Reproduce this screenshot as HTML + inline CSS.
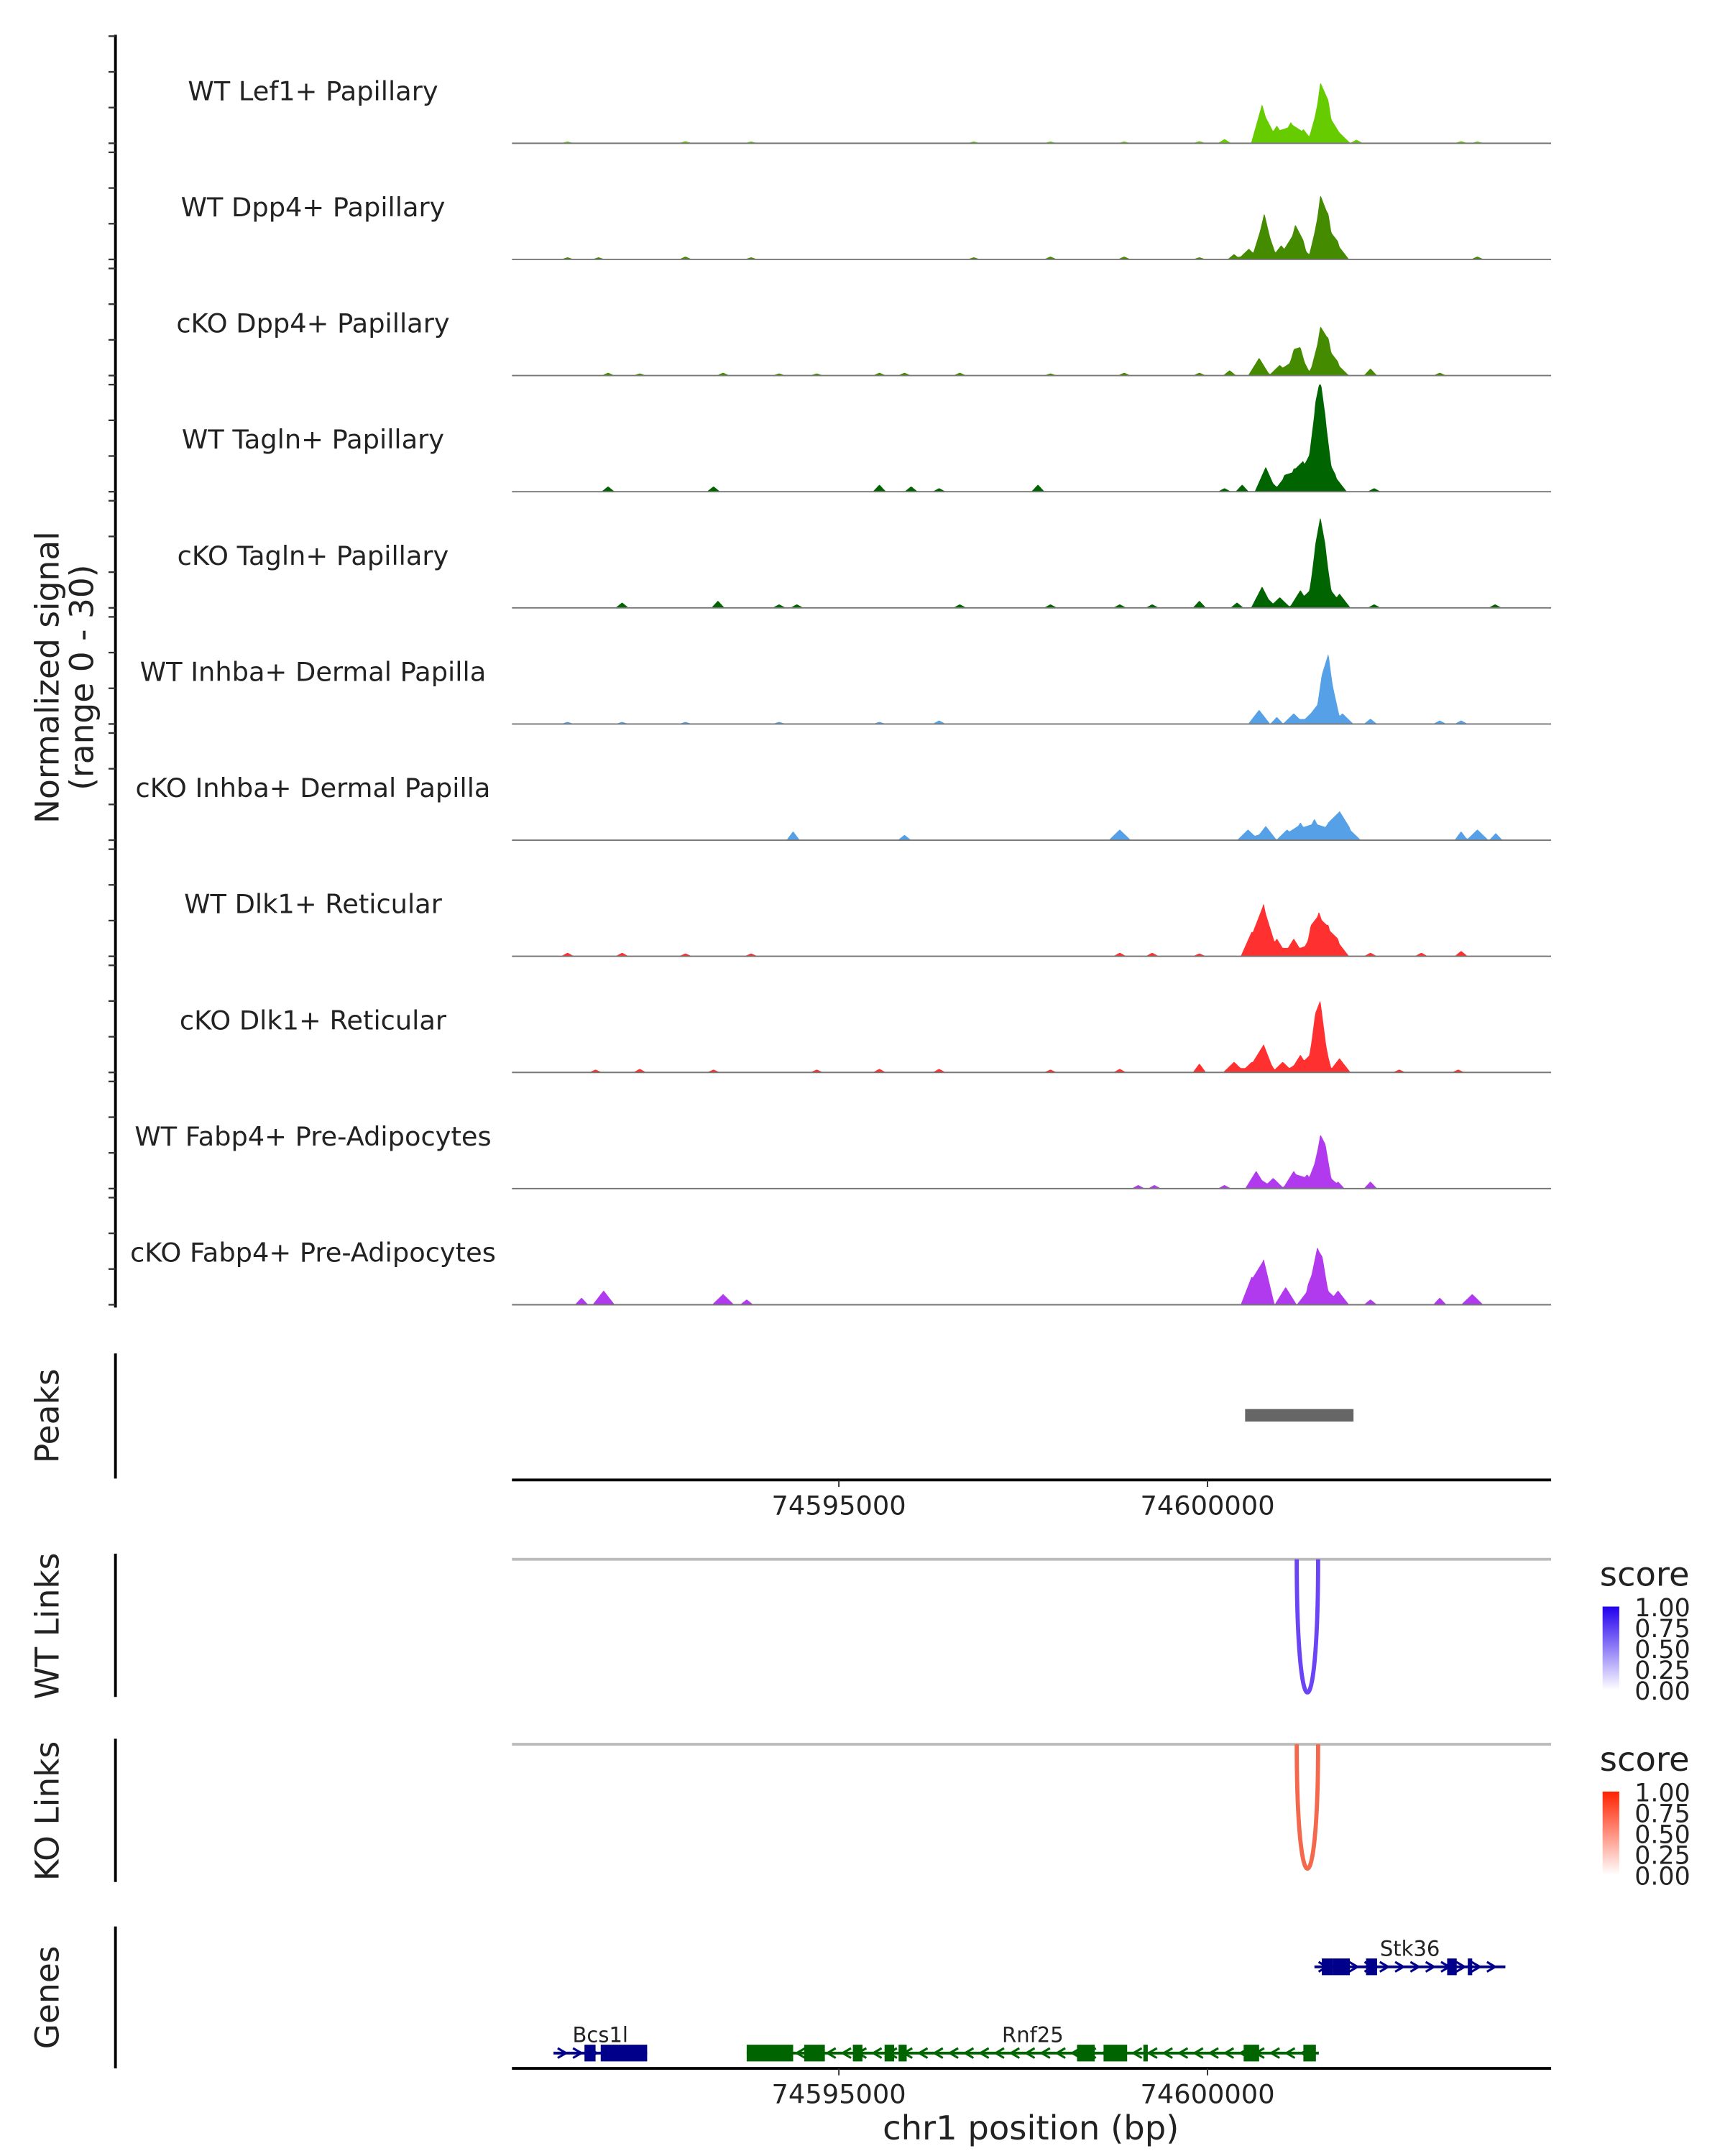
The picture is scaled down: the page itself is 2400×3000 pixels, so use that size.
<!DOCTYPE html>
<html><head><meta charset="utf-8"><style>
html,body{margin:0;padding:0;background:#fff}
svg{display:block}
text{font-family:"DejaVu Sans","Liberation Sans",sans-serif;fill:#222}
</style></head><body>
<svg id="chart" xmlns="http://www.w3.org/2000/svg" width="2400" height="3000" viewBox="0 0 1240 1550">
<g id="tracks"></g>
<g id="peaks"></g>
<g id="links"></g>
<g id="genes"></g>
<text transform="translate(42,487) rotate(-90)" text-anchor="middle" font-size="23.5">Normalized signal</text>
<text transform="translate(67,487) rotate(-90)" text-anchor="middle" font-size="23.5">(range 0 - 30)</text>
<text x="741" y="1538" text-anchor="middle" font-size="24">chr1 position (bp)</text>
</svg>
<script>
const NS="http://www.w3.org/2000/svg";
const regionStart=74590566, regionEnd=74604660;
const yMax=30;
const trackNames=["WT Lef1+ Papillary","WT Dpp4+ Papillary","cKO Dpp4+ Papillary","WT Tagln+ Papillary","cKO Tagln+ Papillary","WT Inhba+ Dermal Papilla","cKO Inhba+ Dermal Papilla","WT Dlk1+ Reticular","cKO Dlk1+ Reticular","WT Fabp4+ Pre-Adipocytes","cKO Fabp4+ Pre-Adipocytes"];
const trackColors=["#66CC00","#458B00","#458B00","#006400","#006400","#56A0E8","#56A0E8","#FF3030","#FF3030","#B23AEE","#B23AEE"];
// peak positions (bp) and heights (0-30)
const peakPos=[
[74591320,74592920,74593810,74596830,74597870,74598870,74599890,74600230,74600740,74600940,74601130,74601300,74601530,74601640,74601790,74602020,74603440,74603660],
[74591320,74591740,74592920,74593810,74596830,74597870,74598870,74599890,74600360,74600560,74600770,74601000,74601190,74601300,74601530,74601640,74601770,74603660],
[74591870,74592300,74593430,74594190,74594700,74595550,74595890,74596640,74597870,74598870,74599890,74600300,74600700,74600980,74601170,74601260,74601530,74601640,74601770,74602210,74603150],
[74591870,74593300,74595550,74595980,74596360,74597700,74600230,74600470,74600790,74601040,74601170,74601300,74601460,74601530,74601600,74601740,74602260],
[74592060,74593360,74594190,74594430,74596640,74597870,74598810,74599250,74599890,74600400,74600740,74600980,74601260,74601460,74601530,74601600,74601790,74602260,74603900],
[74591320,74592060,74592920,74594190,74595550,74596360,74600700,74600940,74601170,74601400,74601550,74601640,74601830,74602210,74603150,74603440],
[74594380,74595890,74598810,74600550,74600790,74601080,74601260,74601450,74601640,74601790,74601930,74603440,74603660,74603910],
[74591320,74592060,74592920,74593810,74598810,74599250,74599890,74600600,74600760,74600940,74601170,74601400,74601510,74601640,74601770,74602210,74602900,74603440],
[74591700,74592300,74593300,74594700,74595550,74596360,74597870,74598810,74599890,74600360,74600600,74600760,74601020,74601260,74601460,74601530,74601790,74602600,74603400],
[74599060,74599280,74600230,74600660,74600890,74601170,74601350,74601530,74601600,74601770,74602210],
[74591510,74591810,74593430,74593750,74600600,74600760,74601060,74601360,74601490,74601560,74601770,74602210,74603150,74603590]
];
const peakHeight=[
[0.5,0.6,0.5,0.5,0.5,0.5,0.6,1.2,11,5,6,4,15,8,3,1,0.6,0.5],
[0.6,0.6,0.8,0.6,0.6,0.8,0.8,0.6,1.5,3,13,4,9,3,16,8,4,0.8],
[0.8,0.6,0.8,0.6,0.6,0.8,0.8,0.8,0.6,0.8,0.8,1.5,5,3,5,6,12,7,3,2,0.8],
[1.5,1.5,2,1.5,1,2,1,2,7,4,5,8,14,19,10,4,1],
[1.5,2,1,1,1,1,1,1,2,1.5,6,3,5,8,17,8,4,1,1],
[0.6,0.6,0.6,0.6,0.6,1,4,2,3,3,7,17,3,1.5,1,1],
[2.5,1.5,3,3,4,3,5,6,5,8,3,2.5,3,2],
[1,1,0.8,0.8,1,1,0.8,7,15,5,5,6,10,7,4,1,1,1.5],
[0.8,1,0.8,0.8,1,1,0.8,1,2.5,3,3,8,3,5,8,16,4,0.8,0.8],
[1,1,1,5,3,5,4,12,6,2,2],
[2,4,3,1.5,8,13,5,4,12,7,4,1.5,2,3]
];
const peakRegions=[[74600510,74601980]];
const linkStart=[74601210], linkEnd=[74601500];
const wtLinkScore=[0.75], koLinkScore=[0.7];
const xTicks=[74595000,74600000];
const yTicks=[0,10,20,30];
const geneNames=["Stk36","Rnf25","Bcs1l"];
const geneStart=[74601450,74593750,74591130];
const geneEnd=[74604040,74601510,74592400];
const geneStrand=[1,-1,1];
const geneRow=[0,1,1];
const geneColor=["#00008B","#006400","#00008B"];
const geneExons=[
[[74601550,74601700],[74601700,74601930],[74602150,74602300],[74603250,74603380],[74603530,74603590]],
[[74593750,74594380],[74594530,74594810],[74595190,74595320],[74595620,74595750],[74595810,74595920],[74598230,74598470],[74598590,74598910],[74599130,74599190],[74600490,74600700],[74601300,74601470]],
[[74591550,74591700],[74591770,74592400]]
];

const X0=368,X1=1115;
const x=bp=>X0+(bp-regionStart)/(regionEnd-regionStart)*(X1-X0);
function el(tag,attrs,parent){const e=document.createElementNS(NS,tag);for(const k in attrs)e.setAttribute(k,attrs[k]);parent.appendChild(e);return e;}

const gT=document.getElementById('tracks');
const trackH=77, step=83.5, top0=26;
el('line',{x1:83,y1:25,x2:83,y2:940,stroke:'#000','stroke-width':2},gT);
trackNames.forEach((name,i)=>{
  const base=top0+i*step+trackH;
  const y=v=>base-Math.min(v,yMax)/yMax*trackH;
  const g=el('g',{},gT);
  
  
  yTicks.forEach(t=>{const tk=el('line',{x1:78,x2:83,y1:y(t),y2:y(t),stroke:'#333','stroke-width':1.2},g);
    });
  const lab=el('text',{x:225,y:base-31,'text-anchor':'middle','font-size':19},g);
  lab.textContent=name;
  
  
  let d='M'+X0+','+base;
  for(let p=regionStart;p<=regionEnd;p+=10){
    let v=0;
    peakPos[i].forEach((c,j)=>{const h=peakHeight[i][j];const ww=h>2.5?150:90;const r=Math.max(0,1-Math.abs(p-c)/ww);v+=h*r;});
    d+=' L'+x(p).toFixed(2)+','+y(v).toFixed(2);
  }
  d+=' L'+X1+','+base+' Z';
  const a=el('path',{d:d,fill:trackColors[i]},g);
  
  
  const bl=el('line',{x1:X0,x2:X1,y1:base,y2:base,stroke:'#777','stroke-width':1},g);
  
  
});

// peaks
const gP=document.getElementById('peaks');
el('line',{x1:83,y1:973,x2:83,y2:1063,stroke:'#000','stroke-width':2},gP);
const pl=el('text',{transform:'translate(42,1018) rotate(-90)','text-anchor':'middle','font-size':23.5},gP);pl.textContent='Peaks';

peakRegions.forEach(r=>{const rc=el('rect',{x:x(r[0]),y:1013,width:x(r[1])-x(r[0]),height:9,fill:'#666'},gP);
  });
function xAxis(yy,parent){
  el('line',{x1:X0,x2:X1,y1:yy,y2:yy,stroke:'#000','stroke-width':2},parent);
  xTicks.forEach(t=>{el('line',{x1:x(t),x2:x(t),y1:yy,y2:yy+5,stroke:'#333'},parent);
    const tl=el('text',{x:x(t),y:yy+25,'text-anchor':'middle','font-size':19,fill:'#444'},parent);tl.textContent=t;
    });
}
xAxis(1064,gP);

// links
const gL=document.getElementById('links');
function linkTrack(top,label,scores,color,grad){
  el('line',{x1:83,y1:top-4,x2:83,y2:top+99,stroke:'#000','stroke-width':2},gL);
  const t=el('text',{transform:'translate(42,'+(top+48)+') rotate(-90)','text-anchor':'middle','font-size':23.5},gL);t.textContent=label;
  
  el('line',{x1:X0,x2:X1,y1:top,y2:top,stroke:'#bbb','stroke-width':2},gL);
  scores.forEach((s,j)=>{const a=x(linkStart[j]),b=x(linkEnd[j]);const dep=96*s/0.75;
    const p=el('path',{d:`M${a},${top} C${a},${top+dep*1.33} ${b},${top+dep*1.33} ${b},${top}`,fill:'none',stroke:color,'stroke-width':3},gL);
    });
  const lg=el('g',{},gL);
  
  const st=el('text',{x:1150,y:top+19,'font-size':24},lg);st.textContent='score';
  el('rect',{x:1152,y:top+34,width:12,height:60,fill:'url(#'+grad+')'},lg);
  ['1.00','0.75','0.50','0.25','0.00'].forEach((s,k)=>{const tt=el('text',{x:1175,y:top+41+k*15,'font-size':18},lg);tt.textContent=s;});
}
const defs=el('defs',{},document.getElementById('chart'));
[['gw','#2200EE'],['gk','#FF2200']].forEach(([id,c])=>{const g=el('linearGradient',{id:id,x1:0,y1:1,x2:0,y2:0},defs);
  el('stop',{offset:0,'stop-color':'#fff'},g);el('stop',{offset:1,'stop-color':c},g);});
linkTrack(1121,'WT Links',wtLinkScore,'#6B45F5','gw');
linkTrack(1254,'KO Links',koLinkScore,'#F4694C','gk');

// genes
const gG=document.getElementById('genes');
el('line',{x1:83,y1:1385,x2:83,y2:1487,stroke:'#000','stroke-width':2},gG);
const gl=el('text',{transform:'translate(42,1436) rotate(-90)','text-anchor':'middle','font-size':23.5},gG);gl.textContent='Genes';

const rowY=[1414,1476];
geneNames.forEach((n,i)=>{
  const yy=rowY[geneRow[i]],c=geneColor[i];
  const g=el('g',{},gG);
  
  
  const a=x(geneStart[i]),b=x(geneEnd[i]);
  el('line',{x1:a,x2:b,y1:yy,y2:yy,stroke:c,'stroke-width':2},g);
  for(let p=a+6;p<b;p+=11){const s=geneStrand[i]*3;
    el('path',{d:`M${p-s},${yy-3.5} L${p+s},${yy} L${p-s},${yy+3.5}`,fill:'none',stroke:c,'stroke-width':1.6},g);}
  geneExons[i].forEach(e=>{el('rect',{x:x(e[0]),y:yy-6,width:Math.max(2,x(e[1])-x(e[0])),height:12,fill:c},g);});
  const t=el('text',{x:(a+b)/2,y:yy-8,'text-anchor':'middle','font-size':15,fill:'#000'},g);t.textContent=n;
});
xAxis(1487,gG);
</script>
</body></html>
